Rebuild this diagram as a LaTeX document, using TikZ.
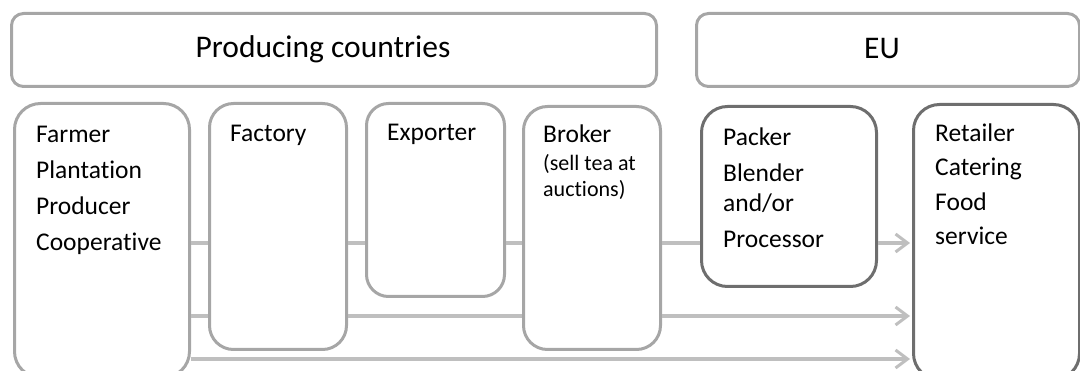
\documentclass[tikz,border=0pt]{standalone}
\usepackage{fontspec}
\setmainfont{Carlito}[Ligatures=NoCommon]
\usetikzlibrary{arrows.meta}
\definecolor{boxgray}{RGB}{166,166,166}
\definecolor{darkgray}{RGB}{110,110,110}
\definecolor{linegray}{RGB}{191,191,191}
\tikzset{
  hdrbox/.style={draw=boxgray, line width=3pt, rounded corners=12pt},
  lowbox/.style={draw=boxgray, line width=3pt, rounded corners=26pt},
  eubox/.style={draw=darkgray, line width=3pt, rounded corners=26pt},
  flow/.style={draw=linegray, line width=4pt},
  flowarrow/.style={flow, -{Straight Barb[length=12pt,width=18pt,line width=3pt]}, shorten >=2pt},
  txt/.style={anchor=base west, inner sep=0pt, align=left, font=\fontsize{25.5}{36}\selectfont},
  subtxt/.style={anchor=base west, inner sep=0pt, align=left, font=\fontsize{22}{26}\selectfont},
  hdr/.style={anchor=base, inner sep=0pt, font=\fontsize{31.5}{32}\selectfont},
}
\begin{document}
\begin{tikzpicture}[x=1pt,y=-1pt]
\useasboundingbox (0,0) rectangle (1080,371);
\clip (0,0) rectangle (1080,371);
% header boxes
\node[hdrbox, anchor=north west, minimum width=645pt, minimum height=73pt] (prod) at (10,12) {};
\node[hdrbox, anchor=north west, minimum width=383pt, minimum height=73pt] (eu) at (695,12) {};
\node[hdr] (prodT) at (323,58) {Producing countries};
\node[hdr] (euT) at (882,59) {EU};
% lower boxes
\node[lowbox, anchor=north west, minimum width=175pt, minimum height=274pt] (farmer) at (13,102) {};
\node[lowbox, anchor=north west, minimum width=137pt, minimum height=246pt, rounded corners=24pt] (factory) at (208,102) {};
\node[lowbox, anchor=north west, minimum width=138pt, minimum height=193pt, rounded corners=22pt] (exporter) at (365,102) {};
\node[lowbox, anchor=north west, minimum width=137pt, minimum height=243pt, rounded corners=24pt] (broker) at (522,105) {};
\node[eubox, anchor=north west, minimum width=175pt, minimum height=180pt] (packer) at (700,105) {};
\node[eubox, anchor=north west, minimum width=166pt, minimum height=275pt] (retail) at (912,103) {};
% texts (base anchor = baseline of last line)
\node[txt] (farmerT) at (36,251) {Farmer\\Plantation\\Producer\\Cooperative};
\node[txt] (factoryT) at (230,142) {Factory};
\node[txt] (exporterT) at (387,141) {Exporter};
\node[txt] (brokerT) at (543,143) {Broker};
\node[subtxt] (brokerS) at (543,197) {(sell tea at\\auctions)};
\node[txt] (packerT) at (723,182) {Packer\\Blender};
\node[txt] (packerT2) at (723,248) {and/or\\Processor};
\node[txt, font=\fontsize{25.5}{34.5}\selectfont] (retailT) at (935,245) {Retailer\\Catering\\Food\\service};
% row coordinates
\coordinate (r1) at (0,243);
\coordinate (r2) at (0,316);
\coordinate (r3) at (0,359);
% row 1
\draw[flow] (farmer.east |- r1) -- (factory.west |- r1);
\draw[flow] (factory.east |- r1) -- (exporter.west |- r1);
\draw[flow] (exporter.east |- r1) -- (broker.west |- r1);
\draw[flow] (broker.east |- r1) -- (packer.west |- r1);
\draw[flowarrow] (packer.east |- r1) -- (retail.west |- r1);
% row 2
\draw[flow] (farmer.east |- r2) -- (factory.west |- r2);
\draw[flow] (factory.east |- r2) -- (broker.west |- r2);
\draw[flowarrow] (broker.east |- r2) -- (retail.west |- r2);
% row 3
\draw[flowarrow] (farmer.east |- r3) -- (retail.west |- r3);
\end{tikzpicture}
\end{document}
